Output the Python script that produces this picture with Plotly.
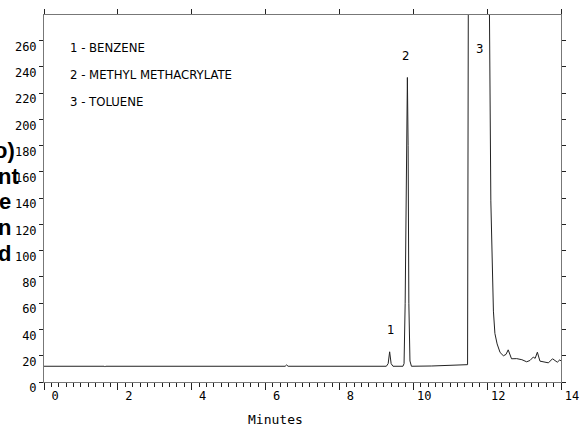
import plotly.graph_objects as go

# Chromatogram (time in minutes, detector signal)
times = [0.00, 1.63, 1.65, 1.67, 6.53, 6.57, 6.61, 9.27, 9.32, 9.36, 9.40, 9.45,
         9.72, 9.75, 9.78, 9.81, 9.84, 9.86, 9.88, 9.91, 9.95, 10.50, 11.00, 11.47,
         11.49, 12.06, 12.10, 12.15, 12.17, 12.21, 12.27, 12.35, 12.44, 12.51, 12.57,
         12.66, 12.80, 12.94, 13.07, 13.16, 13.25, 13.30, 13.36, 13.43, 13.57, 13.66,
         13.77, 13.84, 13.90, 13.97, 14.00]
signal = [12.0, 12.0, 11.4, 12.0, 12.0, 13.0, 12.0, 12.0, 14.0, 23.0, 14.0, 12.0,
          12.0, 14.0, 60.0, 180.0, 232.0, 180.0, 60.0, 16.0, 12.0, 12.2, 12.6, 13.2,
          290.0, 290.0, 138.0, 87.0, 54.0, 37.0, 29.0, 22.5, 20.0, 21.0, 24.5,
          17.7, 17.8, 17.0, 15.4, 16.4, 19.0, 18.0, 22.7, 15.9, 15.4, 14.6,
          17.7, 15.9, 15.1, 16.9, 16.0]

peak_ids = ["1", "2", "3"]
peak_times = [9.37, 9.80, 11.78]
peak_label_y = [40, 249, 254]
compounds = ["1 - BENZENE", "2 - METHYL METHACRYLATE", "3 - TOLUENE"]
compound_y = [255, 234, 214]
x_title = "Minutes"
y_title_parts = ["o)", "nt", "e", "n", "d"]

mono = "DejaVu Sans Mono"
narrow = "Liberation Sans Narrow, DejaVu Sans Condensed, Roboto Condensed, Liberation Sans, sans-serif"

fig = go.Figure()
fig.add_trace(go.Scatter(x=times, y=signal, mode="lines",
                         line=dict(color="#222222", width=1),
                         showlegend=False, hoverinfo="skip"))
# invisible trace to activate the top axis (major ticks only)
fig.add_trace(go.Scatter(x=times[:1], y=signal[:1], xaxis="x2", mode="markers",
                         marker=dict(opacity=0), showlegend=False, hoverinfo="skip"))

axis_line = "#777777"
tick_col = "#222222"

fig.update_layout(
    width=580, height=429,
    margin=dict(l=44, r=19, t=15, b=47, autoexpand=False),
    paper_bgcolor="white", plot_bgcolor="white",
    showlegend=False,
    xaxis=dict(range=[0, 14], tickmode="linear", tick0=0, dtick=2,
               ticks="outside", ticklen=7, tickcolor=tick_col, tickwidth=1,
               showline=True, linecolor=axis_line, linewidth=1,
               showgrid=False, zeroline=False, automargin=False,
               tickfont=dict(family=mono, size=12, color="black"),
               ticklabelshift=11, ticklabelstandoff=-4,
               minor=dict(dtick=0.2, tick0=0, ticks="outside", ticklen=4,
                          tickcolor=tick_col, showgrid=False)),
    xaxis2=dict(overlaying="x", side="top", matches="x", range=[0, 14],
                tickmode="linear", tick0=0, dtick=2,
                ticks="outside", ticklen=5, tickcolor=tick_col,
                showline=True, linecolor=axis_line, linewidth=1, automargin=False,
                showticklabels=False, showgrid=False, zeroline=False),
    yaxis=dict(range=[0, 279.6], tickmode="linear", tick0=0, dtick=20,
               ticks="outside", ticklen=4, tickcolor=tick_col,
               showline=True, linecolor=axis_line, linewidth=1, mirror="ticks",
               showgrid=False, zeroline=False, automargin=False,
               tickfont=dict(family=mono, size=12, color="black"),
               ticklabelshift=6),
)

ann = []
for pid, pt, py in zip(peak_ids, peak_times, peak_label_y):
    ann.append(dict(x=pt, y=py, xref="x", yref="y", text=pid, showarrow=False,
                    xanchor="center", yanchor="middle",
                    font=dict(family=narrow, size=13, color="black")))
for name, cy in zip(compounds, compound_y):
    ann.append(dict(x=0.66, y=cy, xref="x", yref="y", text=name, showarrow=False,
                    xanchor="left", yanchor="middle",
                    font=dict(family=narrow, size=13, color="black")))
ann.append(dict(x=6.27, y=-0.1035, xref="x", yref="paper", text=x_title,
                showarrow=False, xanchor="center", yanchor="middle",
                font=dict(family=mono, size=13, color="black")))
title_y = [0.632, 0.561, 0.493, 0.422, 0.351]
title_x = [-0.052, -0.045, -0.060, -0.060, -0.060]
for part, tx, ty in zip(y_title_parts, title_x, title_y):
    ann.append(dict(x=tx, y=ty, xref="paper", yref="paper", text="<b>" + part + "</b>",
                    showarrow=False, xanchor="right", yanchor="middle",
                    font=dict(family="Liberation Sans, Arial, sans-serif", size=22,
                              color="black")))
fig.update_layout(annotations=ann)

post = "document.body.style.margin='0';document.body.style.overflow='hidden';"
fig.write_html("out.html", post_script=post, config={"displayModeBar": False})
